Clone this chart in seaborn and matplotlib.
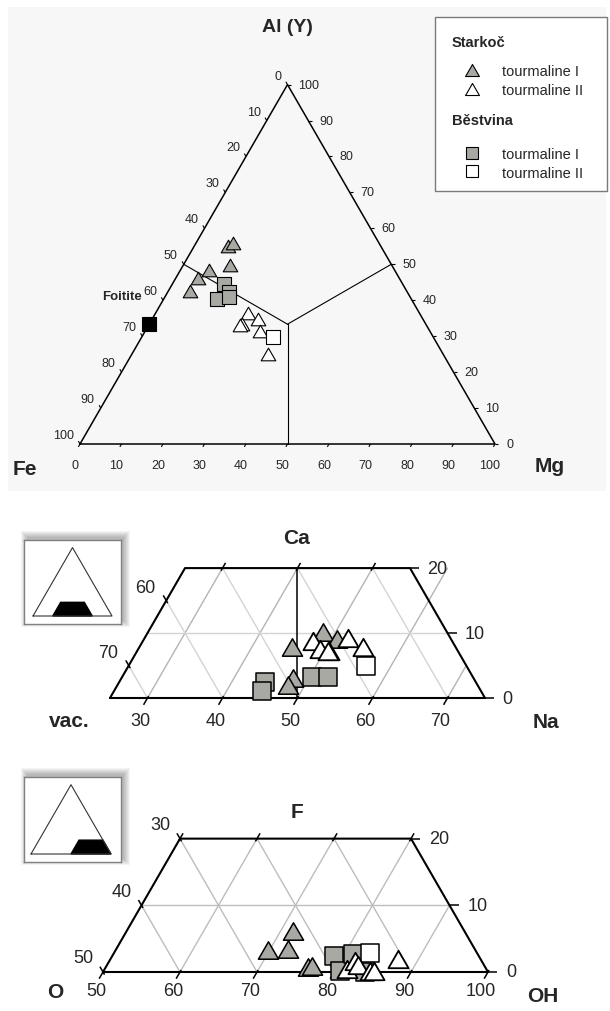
import numpy as np
import matplotlib.pyplot as plt
import seaborn as sns
from matplotlib.patches import Rectangle, Polygon
from matplotlib.lines import Line2D
from matplotlib.path import Path

# ======================
# DATA  (% values)
# ======================
# Y site: Al - Fe - Mg  (Fe = 100 - Al - Mg)
st1_al = [55.1, 55.9, 49.8, 48.4, 46.2, 42.6]
st1_mg = [8.1, 8.9, 11.2, 6.9, 5.3, 5.2]
st2_al = [36.4, 34.8, 33.4, 33.1, 31.4, 25.0]
st2_mg = [22.3, 25.5, 22.3, 22.0, 27.7, 32.8]
be1_al = [44.5, 42.3, 40.3, 40.9]
be1_mg = [12.4, 14.8, 12.8, 15.4]
be2_al = [29.8]
be2_mg = [31.6]
foitite_al = [33.4]
foitite_mg = [0.0]

# X site: Ca - Na - vacancy  (vac = 100 - Ca - Na)
st1_na = [45.3, 47.9, 47.7, 48.3, 50.7]
st1_ca = [7.9, 3.1, 2.0, 10.2, 9.1]
st2_na = [47.7, 49.2, 50.6, 50.4, 52.1, 54.8]
st2_ca = [8.8, 7.5, 7.2, 7.3, 9.2, 7.9]
be1_na = [50.3, 52.5, 44.4, 44.7]
be1_ca = [3.2, 3.2, 2.5, 1.1]
be2_na = [56.7]
be2_ca = [4.9]

# W site: F - OH - O  (O = 100 - F - OH)
st1_oh = [69.8, 72.3, 71.6, 76.2, 76.7]
st1_f = [3.3, 3.45, 6.15, 0.75, 0.9]
st2_oh = [81.5, 81.9, 82.6, 84.6, 85.1, 87.3]
st2_f = [0.45, 1.65, 1.05, 0.15, 0.15, 1.95]
be1_oh = [78.8, 80.7, 81.1, 84.0]
be1_f = [2.4, 0.15, 2.7, 0.0]
be2_oh = [83.3]
be2_f = [2.85]

# tick values
fe_ticks = list(range(0, 101, 10))
mg_ticks = list(range(0, 101, 10))
al_ticks = list(range(0, 101, 10))
na_ticks = [30, 40, 50, 60, 70]
vac_ticks = [60, 70]
ca_ticks = [0, 10, 20]
oh_ticks = [50, 60, 70, 80, 90, 100]
o_ticks = [30, 40, 50]
f_ticks = [0, 10, 20]

# ======================
# SETUP
# ======================
sns.set_style("white")
plt.rcParams['font.family'] = ['Liberation Sans', 'DejaVu Sans']

W, H = 610, 1012
R3 = np.sqrt(3) / 2
GRAY = '#a8a9a2'
# equilateral triangle marker, closed path
TRI = Path([(-1, -0.866), (1, -0.866), (0, 0.866), (-1, -0.866)],
           [Path.MOVETO, Path.LINETO, Path.LINETO, Path.CLOSEPOLY])
LEFT_OUT = (-0.5, R3)
BOT_OUT = (-0.5, -R3)
TOP_OUT = (0.5, R3)
RIGHT_OUT = (1.0, 0.0)

fig = plt.figure(figsize=(6.1, 10.12), dpi=100)


def xy(right, top):
    r = np.asarray(right, float)
    t = np.asarray(top, float)
    return r + t / 2, t * R3


def panel(box, origin, scale, face='none'):
    x0, y0, x1, y1 = box
    ox, oy = origin
    ax = fig.add_axes([x0 / W, 1 - y1 / H, (x1 - x0) / W, (y1 - y0) / H], facecolor=face)
    ax.set_xlim((x0 - ox) / scale, (x1 - ox) / scale)
    ax.set_ylim((oy - y1) / scale, (oy - y0) / scale)
    ax.set_xticks([])
    ax.set_yticks([])
    for sp in ax.spines.values():
        sp.set_visible(False)
    return ax


def line(ax, pts, **kw):
    r, t = zip(*pts)
    X, Y = xy(r, t)
    ax.plot(X, Y, **kw)


def ticks(ax, pts, d, out, inn=0.0, lw=1.0):
    for r, t in pts:
        X, Y = xy(r, t)
        ax.plot([X - inn * d[0], X + out * d[0]], [Y - inn * d[1], Y + out * d[1]],
                color='black', lw=lw, solid_capstyle='butt')


def labels(ax, pts, vals, off, ha, size):
    for (r, t), v in zip(pts, vals):
        X, Y = xy(r, t)
        ax.annotate(str(v), xy=(float(X), float(Y)), xytext=(off[0] * 0.72, off[1] * 0.72),
                    textcoords='offset points', ha=ha, va='center', fontsize=size,
                    annotation_clip=False)


def points(ax, right, top, marker, fill, s, lw, z):
    X, Y = xy(right, top)
    sns.scatterplot(x=X, y=Y, marker=marker, s=s, color=fill, edgecolor='black',
                    linewidth=lw, ax=ax, zorder=z, legend=False)


def ftext(x, y, s, **kw):
    fig.text(x / W, 1 - y / H, s, ha='center', va='center', **kw)


# ======================
# 1. Al - Fe - Mg
# ======================
ax1 = panel((8, 8, 606, 492), (80, 445), 4.15, face='#f7f7f7')
line(ax1, [(0, 0), (100, 0), (0, 100), (0, 0)], color='black', lw=1.1)
centre = (100 / 3, 100 / 3)
for p in [(0, 50), (50, 50), (50, 0)]:
    line(ax1, [p, centre], color='black', lw=0.8)

pts = [(0, 100 - f) for f in fe_ticks]
ticks(ax1, pts, LEFT_OUT, 0.8, lw=0.8)
labels(ax1, pts, fe_ticks, (-6, 9), 'right', 9)
pts = [(m, 0) for m in mg_ticks]
ticks(ax1, pts, BOT_OUT, 0.8, lw=0.8)
labels(ax1, pts, mg_ticks, (-5, -21), 'center', 9)
pts = [(100 - a, a) for a in al_ticks]
ticks(ax1, pts, RIGHT_OUT, 0.8, lw=0.8)
labels(ax1, pts, al_ticks, (11, 0), 'left', 9)

points(ax1, be1_mg, be1_al, 's', GRAY, 90, 0.8, 3)
points(ax1, st1_mg, st1_al, TRI, GRAY, 110, 0.8, 4)
points(ax1, st2_mg, st2_al, TRI, 'white', 110, 0.8, 5)
points(ax1, be2_mg, be2_al, 's', 'white', 90, 0.8, 6)
points(ax1, foitite_mg, foitite_al, 's', 'black', 90, 0.8, 6)
fx, fy = xy(foitite_mg, foitite_al)
ax1.annotate('Foitite', xy=(float(fx[0]), float(fy[0])), xytext=(-7 * 0.72, 28 * 0.72),
             textcoords='offset points', ha='right', va='center', fontsize=9.5,
             fontweight='bold')

# legend
ax1.add_patch(Rectangle((435 / W, 1 - 192 / H), 172 / W, 174 / H, transform=fig.transFigure,
                        facecolor='white', edgecolor='#7a7a7a', lw=1, zorder=3, clip_on=False))
h = [Line2D([], [], ls='none', marker=TRI, ms=10, mfc=GRAY, mec='black', mew=0.8),
     Line2D([], [], ls='none', marker=TRI, ms=10, mfc='white', mec='black', mew=0.8),
     Line2D([], [], ls='none', marker='s', ms=9, mfc=GRAY, mec='black', mew=0.8),
     Line2D([], [], ls='none', marker='s', ms=9, mfc='white', mec='black', mew=0.8)]
leg_kw = dict(loc='upper left', bbox_transform=fig.transFigure, frameon=False, borderpad=0,
              borderaxespad=0, handlelength=2.74, handletextpad=0.69, labelspacing=0.3,
              fontsize=10.5, title_fontproperties={'weight': 'bold', 'size': 10.5},
              alignment='left', numpoints=1)
leg1 = ax1.legend(h[:2], ['tourmaline I', 'tourmaline II'], title='Starkoč',
                  bbox_to_anchor=(452 / W, 1 - 36 / H), **leg_kw)
leg1._legend_box.sep = 11
ax1.add_artist(leg1)
leg2 = ax1.legend(h[2:], ['tourmaline I', 'tourmaline II'], title='Běstvina',
                  bbox_to_anchor=(452 / W, 1 - 114 / H), **leg_kw)
leg2._legend_box.sep = 14.5

ftext(287, 28, 'Al (Y)', fontsize=14, fontweight='bold')
ftext(25, 470, 'Fe', fontsize=15, fontweight='bold')
ftext(550, 467, 'Mg', fontsize=15, fontweight='bold')

# ======================
# 2. Ca - Na - vacancy
# ======================
ax2 = panel((0, 500, 610, 760), (-77.5, 699), 7.5)
for n in [30, 40, 50, 60]:
    line(ax2, [(n, 0), (n, 20)], color='#b4b4b4', lw=1)
line(ax2, [(70, 0), (70, 5)], color='#b4b4b4', lw=1)
for v, n0, n1 in [(70, 30, 25), (60, 40, 25), (50, 50, 30), (40, 60, 40), (30, 70, 50)]:
    line(ax2, [(n0, 100 - v - n0), (n1, 100 - v - n1)], color='#d4d4d4', lw=1)
line(ax2, [(25, 10), (65, 10)], color='#d4d4d4', lw=1)
line(ax2, [(50, 0), (40, 20)], color='black', lw=1.1)
line(ax2, [(25, 0), (75, 0), (55, 20), (25, 20), (25, 0)], color='black', lw=1.5)

pts = [(n, 0) for n in na_ticks]
ticks(ax2, pts, BOT_OUT, 1.05, 0.3, lw=1.1)
labels(ax2, pts, na_ticks, (-7, -23), 'center', 13)
ticks(ax2, [(30, 20), (40, 20), (50, 20)], TOP_OUT, 0.8, 0.4, lw=1.1)
pts = [(25, 75 - v) for v in vac_ticks]
ticks(ax2, pts, LEFT_OUT, 0.8, 0.4, lw=1.1)
labels(ax2, pts, vac_ticks, (-11, 13), 'right', 13)
pts = [(75 - c, c) for c in ca_ticks]
ticks(ax2, pts, RIGHT_OUT, 1.2, lw=1.1)
labels(ax2, pts, ca_ticks, (17, 0), 'left', 13)

points(ax2, be1_na, be1_ca, 's', GRAY, 165, 1.1, 3)
points(ax2, st1_na, st1_ca, TRI, GRAY, 210, 1.1, 4)
points(ax2, be2_na, be2_ca, 's', 'white', 165, 1.1, 5)
points(ax2, st2_na, st2_ca, TRI, 'white', 210, 1.3, 6)

ftext(297, 538, 'Ca', fontsize=15, fontweight='bold')
ftext(69, 722, 'vac.', fontsize=15, fontweight='bold')
ftext(546, 723, 'Na', fontsize=15, fontweight='bold')

# ======================
# 3. F - OH - O
# ======================
ax3 = panel((0, 770, 610, 1012), (-282, 973), 7.7)
for oh in [60, 70, 80]:
    line(ax3, [(oh, 0), (oh, 20)], color='#bdbdbd', lw=1)
line(ax3, [(90, 0), (90, 10)], color='#bdbdbd', lw=1)
for o, a, b in [(40, 60, 50), (30, 70, 50), (20, 80, 60), (10, 90, 70)]:
    line(ax3, [(a, 100 - o - a), (b, 100 - o - b)], color='#bdbdbd', lw=1)
line(ax3, [(50, 10), (90, 10)], color='#bdbdbd', lw=1)
line(ax3, [(50, 0), (100, 0), (80, 20), (50, 20), (50, 0)], color='black', lw=1.5)

pts = [(oh, 0) for oh in oh_ticks]
ticks(ax3, pts, BOT_OUT, 1.0, 0.3, lw=1.1)
labels(ax3, pts, oh_ticks, (-7, -19), 'center', 13)
ticks(ax3, [(50, 20), (60, 20), (70, 20), (80, 20)], TOP_OUT, 0.8, 0.4, lw=1.1)
pts = [(50, 50 - o) for o in o_ticks]
ticks(ax3, pts, LEFT_OUT, 0.8, 0.4, lw=1.1)
labels(ax3, pts, o_ticks, (-10, 14), 'right', 13)
pts = [(100 - f, f) for f in f_ticks]
ticks(ax3, pts, RIGHT_OUT, 1.2, lw=1.1)
labels(ax3, pts, f_ticks, (18, 0), 'left', 13)

points(ax3, be1_oh, be1_f, 's', GRAY, 165, 1.1, 3)
points(ax3, st1_oh, st1_f, TRI, GRAY, 210, 1.1, 4)
points(ax3, be2_oh, be2_f, 's', 'white', 165, 1.1, 5)
points(ax3, st2_oh, st2_f, TRI, 'white', 210, 1.3, 6)

ftext(297, 813, 'F', fontsize=15, fontweight='bold')
ftext(55, 993, 'O', fontsize=15, fontweight='bold')
ftext(543, 997, 'OH', fontsize=15, fontweight='bold')

# ======================
# 4. small key triangles
# ======================
icons = [((24, 541, 121, 625), (33, 617), 0.79, [(25, 0), (75, 0), (55, 20), (25, 20)]),
         ((24, 778, 121, 863), (31, 855), 0.80, [(50, 0), (100, 0), (80, 20), (50, 20)])]
for box, origin, sc, trap in icons:
    x0, y0, x1, y1 = box
    for i in range(7):
        fig.add_artist(Rectangle(((x0 + 3 - i) / W, 1 - (y1 - 3 + i) / H),
                                 (x1 - x0 + 2 * i) / W, (y1 - y0 + 2 * i) / H,
                                 transform=fig.transFigure, facecolor='black',
                                 edgecolor='none', alpha=0.045, zorder=-1))
    axi = panel(box, origin, sc, face='white')
    for sp in axi.spines.values():
        sp.set_visible(True)
        sp.set_color('#808080')
        sp.set_linewidth(1)
    line(axi, [(0, 0), (100, 0), (0, 100), (0, 0)], color='#333333', lw=0.8)
    r, t = zip(*trap)
    X, Y = xy(r, t)
    axi.add_patch(Polygon(np.column_stack([X, Y]), closed=True, facecolor='black',
                          edgecolor='black'))

fig.savefig('out.png', dpi=100)
